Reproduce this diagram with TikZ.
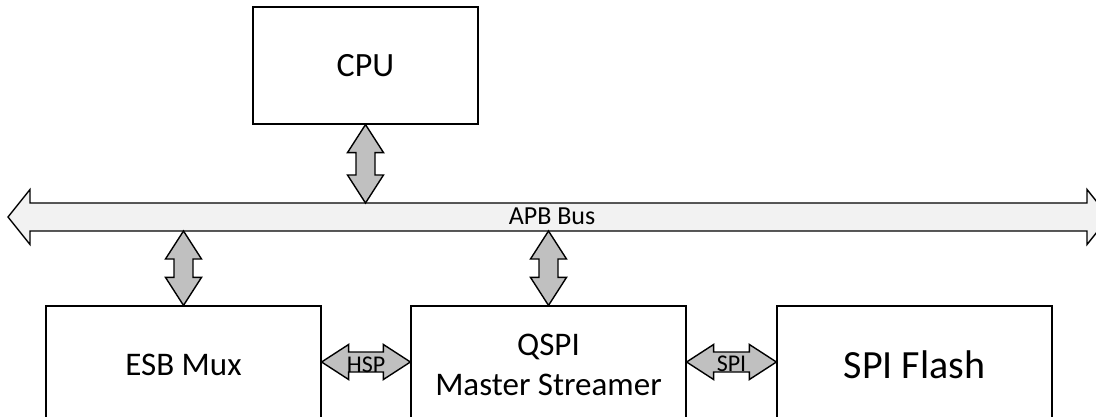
\documentclass[tikz,border=0pt]{standalone}
\usepackage{fontspec}
\setmainfont{Carlito}
\usetikzlibrary{calc}
\definecolor{arrowgray}{HTML}{C0C0C0}
\definecolor{busgray}{HTML}{F2F2F2}
\tikzset{
  block/.style={draw=black, line width=1.2pt, fill=white, minimum width=275pt,
    minimum height=118pt, inner sep=0pt, font=\fontsize{33}{40}\selectfont, align=center},
  darrow/.style={draw=black, line width=1.4pt, fill=arrowgray, line join=miter},
  busarrow/.style={draw=black, line width=1.4pt, fill=busgray, line join=miter},
  smalllabel/.style={font=\fontsize{24}{28}\selectfont, inner sep=0pt},
}
\newcommand\vdarrow[2]{%
  \draw[darrow] let \p1=(#1), \p2=(#2) in
    (\x1,\y1) -- (\x1+18pt,\y1-28pt) -- (\x1+9.5pt,\y1-28pt) -- (\x1+9.5pt,\y2+28pt)
    -- (\x1+18pt,\y2+28pt) -- (\x1,\y2) -- (\x1-18pt,\y2+28pt) -- (\x1-9.5pt,\y2+28pt)
    -- (\x1-9.5pt,\y1-28pt) -- (\x1-18pt,\y1-28pt) -- cycle;}
\newcommand\hdarrow[2]{%
  \draw[darrow] let \p1=(#1), \p2=(#2) in
    (\x1,\y1) -- (\x1+27pt,\y1+17.5pt) -- (\x1+27pt,\y1+10pt) -- (\x2-27pt,\y1+10pt)
    -- (\x2-27pt,\y1+17.5pt) -- (\x2,\y1) -- (\x2-27pt,\y1-17.5pt) -- (\x2-27pt,\y1-10pt)
    -- (\x1+27pt,\y1-10pt) -- (\x1+27pt,\y1-17.5pt) -- cycle;}
\begin{document}
\begin{tikzpicture}[x=1pt,y=-1pt]
\clip (0,0) rectangle (1096,417);
\fill[white] (0,0) rectangle (1096,417);
% blocks
\node[block, minimum width=225pt, minimum height=117pt, font=\fontsize{34}{40}\selectfont] (cpu) at (365.5,65.5) {CPU};
\node[block] (esb) at (183.5,365) {ESB Mux};
\node[block] (qspi) at (548.5,365) {QSPI\\Master Streamer};
\node[block, font=\fontsize{40}{48}\selectfont] (flash) at (914.5,365) {SPI Flash};
% bus
\coordinate (busL) at (8,217);
\coordinate (busR) at (1109,217);
\draw[busarrow] let \p1=(busL), \p2=(busR) in
  (\x1,\y1) -- (\x1+22pt,\y1+27.5pt) -- (\x1+22pt,\y1+14pt) -- (\x2-22pt,\y1+14pt)
  -- (\x2-22pt,\y1+27.5pt) -- (\x2,\y2) -- (\x2-22pt,\y2-27.5pt) -- (\x2-22pt,\y2-14pt)
  -- (\x1+22pt,\y2-14pt) -- (\x1+22pt,\y1-27.5pt) -- cycle;
\node[font=\fontsize{26}{30}\selectfont, inner sep=0pt, anchor=base] (apb) at (552,225) {APB Bus};
% bus attachment points
\coordinate (b1) at (365.5,203);
\coordinate (b2) at (183.5,231);
\coordinate (b3) at (548.5,231);
% vertical double arrows
\vdarrow{cpu.south}{b1}
\vdarrow{b2}{esb.north}
\vdarrow{b3}{qspi.north}
% horizontal double arrows
\coordinate (h1) at ($(esb.east)+(0,-3)$);
\coordinate (h2) at ($(qspi.west)+(0,-3)$);
\coordinate (h3) at ($(qspi.east)+(0,-3)$);
\coordinate (h4) at ($(flash.west)+(0,-3)$);
\hdarrow{h1}{h2}
\hdarrow{h3}{h4}
\node[smalllabel] (hsp) at ($(esb.east)!0.5!(qspi.west)$) {HSP};
\node[smalllabel] (spi) at ($(qspi.east)!0.5!(flash.west)+(0,-1)$) {SPI};
\end{tikzpicture}
\end{document}
